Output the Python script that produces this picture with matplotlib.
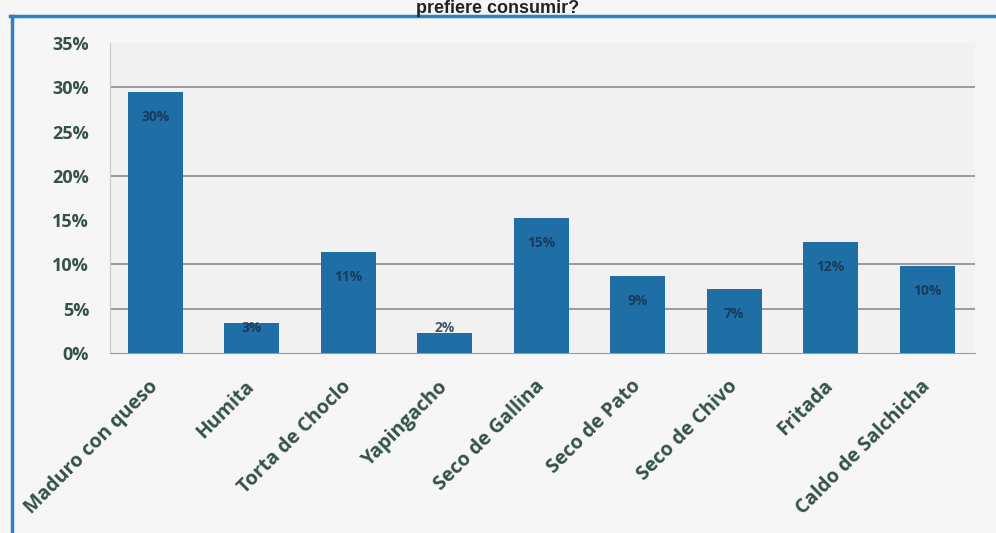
import matplotlib
matplotlib.use("Agg")
import matplotlib.pyplot as plt
from matplotlib.lines import Line2D
from matplotlib.ticker import FuncFormatter, MultipleLocator

# share of respondents per dish (percent)
platos = ["Maduro con queso", "Humita", "Torta de Choclo", "Yapingacho",
          "Seco de Gallina", "Seco de Pato", "Seco de Chivo", "Fritada",
          "Caldo de Salchicha"]
porcentajes = [29.5, 3.4, 11.4, 2.3, 15.2, 8.7, 7.2, 12.5, 9.8]
titulo = "prefiere consumir?"

azul = "#1f6ea6"
texto = "#34514a"

fig = plt.figure(figsize=(9.96, 5.33), dpi=100, facecolor="#f6f6f6")
ax = fig.add_axes([0.1104, 0.3377, 0.869, 0.5816])
ax.set_facecolor("#f1f1f1")

x = list(range(len(platos)))
ax.bar(x, porcentajes, width=0.57, color=azul, zorder=3)

# value labels sit inside the bar, near the top
for xi, v in zip(x, porcentajes):
    ax.text(xi, max(v - 2.8, 2.8), f"{v:.0f}%", ha="center", va="center",
            fontsize=10, fontweight="bold", color="#15304a", alpha=0.8,
            family="Open Sans", zorder=4)

ax.set_xlim(-0.47, 8.5)
ax.set_ylim(0, 35)
ax.yaxis.set_major_locator(MultipleLocator(5))
ax.yaxis.set_major_formatter(FuncFormatter(lambda v, _: f"{v:.0f}%"))

for g in [5, 10, 20, 30]:
    ax.axhline(g, color="#8c8c8c", lw=1.2, zorder=1)

for s in ["top", "right"]:
    ax.spines[s].set_visible(False)
ax.spines["left"].set_color("#c8c8c8")
ax.spines["bottom"].set_color("#9a9a9a")

ax.tick_params(axis="y", length=0, pad=15, labelsize=13, labelcolor=texto)
ax.tick_params(axis="x", length=0, pad=4)
for lab in ax.get_yticklabels():
    lab.set_fontweight("bold")
    lab.set_family("Open Sans")

ax.set_xticks(x)
ax.set_xticklabels(platos, rotation=45, ha="right", va="center",
                   rotation_mode="anchor", fontsize=14, fontweight="bold",
                   color=texto, family="Open Sans")
for lab in ax.get_xticklabels():
    lab.set_y(-0.08)

# page title at the top edge
fig.text(0.5, 1 - 13 / 533, titulo, ha="center", va="baseline",
         fontsize=13, fontweight="bold", color="#222222", family="Liberation Sans")

# blue frame around the chart
fig.add_artist(Line2D([0.01, 1.0], [1 - 16 / 533, 1 - 16 / 533],
                      color="#2f80c4", lw=2.5, transform=fig.transFigure))
fig.add_artist(Line2D([12 / 996, 12 / 996], [0, 1 - 16 / 533],
                      color="#2f80c4", lw=2.5, transform=fig.transFigure))

fig.savefig("out.png", dpi=100, facecolor=fig.get_facecolor())
